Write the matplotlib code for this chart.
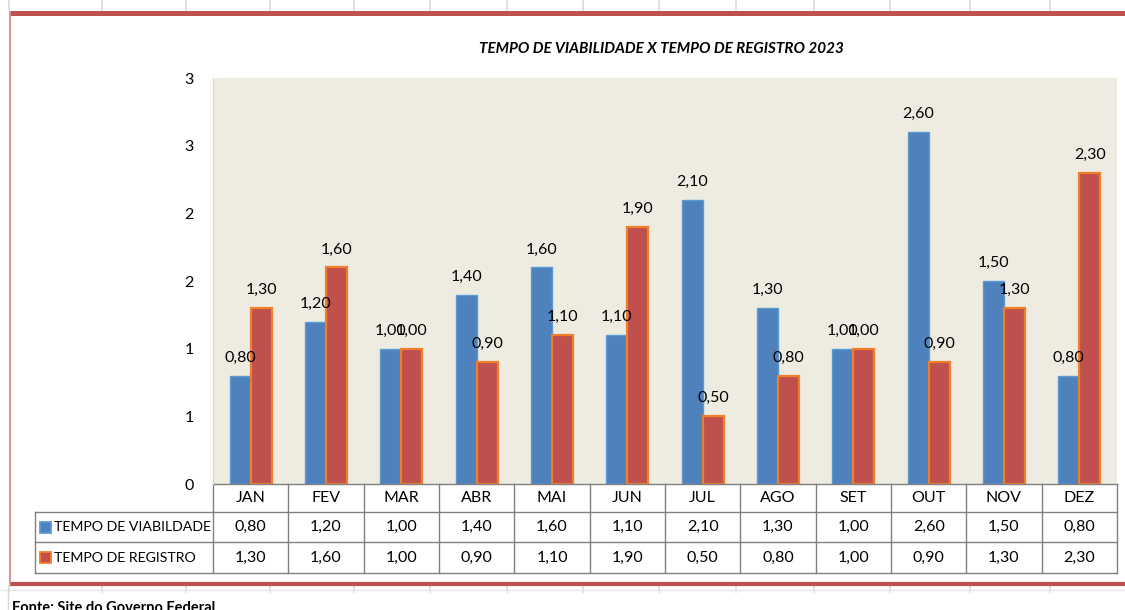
import numpy as np
import matplotlib.pyplot as plt
import matplotlib.transforms as mtransforms
from matplotlib.patches import Rectangle
from matplotlib.lines import Line2D

plt.rcParams['font.family'] = ['Lato', 'DejaVu Sans']

# data
months = ['JAN', 'FEV', 'MAR', 'ABR', 'MAI', 'JUN', 'JUL', 'AGO', 'SET', 'OUT', 'NOV', 'DEZ']
viabilidade = [0.80, 1.20, 1.00, 1.40, 1.60, 1.10, 2.10, 1.30, 1.00, 2.60, 1.50, 0.80]
registro = [1.30, 1.60, 1.00, 0.90, 1.10, 1.90, 0.50, 0.80, 1.00, 0.90, 1.30, 2.30]
series_names = ['TEMPO DE VIABILDADE', 'TEMPO DE REGISTRO']
title = 'TEMPO DE VIABILIDADE X TEMPO DE REGISTRO 2023'
source = 'Fonte: Site do Governo Federal'

blue, blue_edge = '#4F81BD', '#5B9BD5'
red, red_edge = '#C0504D', '#F07F2A'
frame_red = '#C0504D'
grid_gray = '#D9D9D9'
table_gray = '#808080'

W, H = 1125, 610
fig = plt.figure(figsize=(W / 100, H / 100), dpi=100)

# background layer in pixel coords (sheet gridlines + chart frame)
bg = fig.add_axes([0, 0, 1, 1], zorder=0)
bg.set_xlim(0, W)
bg.set_ylim(H, 0)
bg.axis('off')
for gx in [9, 102, 186, 270, 354, 430, 507, 583, 659, 736, 814, 890, 970, 1050]:
    bg.plot([gx, gx], [0, 10], color=grid_gray, lw=1.2)
    bg.plot([gx, gx], [586, 592], color=grid_gray, lw=1.2)
bg.plot([0, W], [590, 590], color='#E6E6E6', lw=1)
bg.plot([8, 8], [586, H], color=grid_gray, lw=1)
bg.plot([10, W], [12.5, 12.5], color=frame_red, lw=3.6, solid_capstyle='butt')
bg.plot([10, W], [583.5, 583.5], color=frame_red, lw=3, solid_capstyle='butt')
bg.plot([10, 10], [12, 584], color='#D98A88', lw=1.3)

# main chart
left, right, top, bottom = 213, 1117, 78, 484
ax = fig.add_axes([left / W, 1 - bottom / H, (right - left) / W, (bottom - top) / H], zorder=1)
ax.set_facecolor('#EEECE1')
x = np.arange(len(months))
bw = 0.28
b1 = ax.bar(x - bw / 2, viabilidade, bw, color=blue, edgecolor=blue_edge, linewidth=1.0, zorder=2)
b2 = ax.bar(x + bw / 2, registro, bw, color=red, edgecolor=red_edge, linewidth=1.6, zorder=2)

def fmt(v):
    return f'{v:.2f}'.replace('.', ',')

for bars, vals in [(b1, viabilidade), (b2, registro)]:
    for rect, v in zip(bars, vals):
        ax.annotate(fmt(v), (rect.get_x() + rect.get_width() / 2, v), xytext=(0, 13),
                    textcoords='offset points', ha='center', va='center', fontsize=11.5, zorder=3)

ax.set_xlim(-0.5, len(months) - 0.5)
ax.set_ylim(0, 3)
ax.set_yticks(np.arange(0, 3.01, 0.5))
ax.set_yticklabels([str(int(np.floor(v + 0.5))) for v in np.arange(0, 3.01, 0.5)])
ax.set_xticks([])
ax.tick_params(axis='y', length=0, pad=14, labelsize=11.5)
for s in ['top', 'right', 'bottom']:
    ax.spines[s].set_visible(False)
ax.spines['left'].set_color(grid_gray)

# data table under the chart
trans = mtransforms.blended_transform_factory(ax.transData, ax.transAxes)
ph = bottom - top
cat_px = (right - left) / len(months)
rows_y = [0, -(512 - bottom) / ph, -(542 - bottom) / ph, -(573 - bottom) / ph]
lab_x = -0.5 - (left - 35) / cat_px
xr = len(months) - 0.5
lk = dict(color=table_gray, lw=1, transform=trans, clip_on=False)
ax.add_line(Line2D([-0.5, xr], [rows_y[0]] * 2, **lk))
for yy in rows_y[1:]:
    ax.add_line(Line2D([lab_x, xr], [yy, yy], **lk))
for i in range(len(months) + 1):
    ax.add_line(Line2D([i - 0.5, i - 0.5], [rows_y[0], rows_y[3]], **lk))
ax.add_line(Line2D([lab_x, lab_x], [rows_y[1], rows_y[3]], **lk))

for i, m in enumerate(months):
    ax.text(i, (rows_y[0] + rows_y[1]) / 2, m, transform=trans, ha='center', va='center', fontsize=11.5)
for r, (vals, name, fc, ec) in enumerate([(viabilidade, series_names[0], blue, blue_edge),
                                         (registro, series_names[1], red, red_edge)]):
    yc = (rows_y[r + 1] + rows_y[r + 2]) / 2
    for i, v in enumerate(vals):
        ax.text(i, yc, fmt(v), transform=trans, ha='center', va='center', fontsize=11.5)
    sq_w, sq_h = 11 / cat_px, 11 / ph
    kx = lab_x + 5 / cat_px
    ax.add_patch(Rectangle((kx, yc - sq_h / 2), sq_w, sq_h, facecolor=fc, edgecolor=ec,
                           lw=1.3, transform=trans, clip_on=False))
    ax.text(kx + 14 / cat_px, yc, name, transform=trans, ha='left', va='center', fontsize=10.2)

fig.text(661 / W, 1 - 49 / H, title, ha='center', va='center', fontsize=11,
         fontweight='bold', fontstyle='italic')
fig.text(12 / W, 1 - 608 / H, source, ha='left', va='center', fontsize=10.5, fontweight='bold')

fig.savefig('out.png', dpi=100)
